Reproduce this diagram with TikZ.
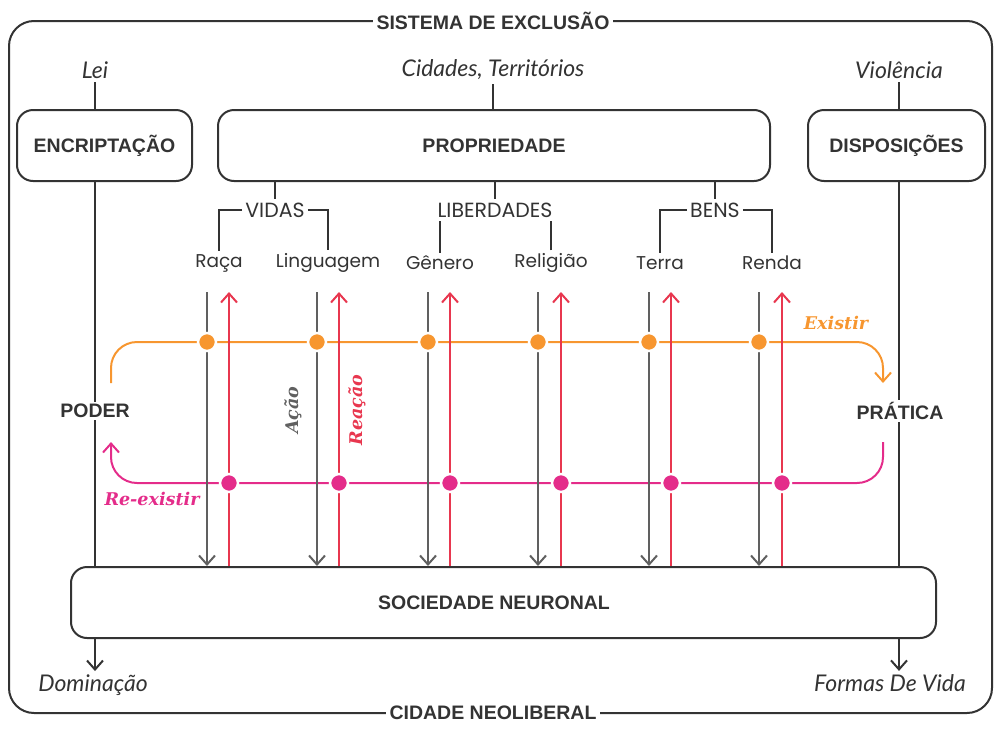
\documentclass[tikz,border=0pt]{standalone}
\usepackage{fontspec}
\setmainfont{Liberation Sans}
\newfontfamily\thinfont{Poppins}
\newfontfamily\slantfont{Lato}
\newfontfamily\notefont{DejaVu Serif}
\usetikzlibrary{arrows.meta}
\definecolor{dkgray}{HTML}{333333}
\definecolor{midgray}{HTML}{606060}
\definecolor{exorange}{HTML}{F7962F}
\definecolor{remagenta}{HTML}{E42C8A}
\definecolor{reared}{HTML}{E8374F}

\begin{document}
\begin{tikzpicture}[x=1pt,y=-1pt,
    dk/.style={draw=dkgray,line width=2},
    barb/.style={-{Straight Barb[length=9pt,width=16pt]}},
    roundbox/.style={draw=dkgray,line width=2,rounded corners=16,fill=white,minimum height=71},
    capt/.style={fill=white,inner xsep=4,inner ysep=2,text=dkgray,font=\fontsize{19.5}{22}\selectfont\bfseries},
    slant/.style={text=dkgray,font=\slantfont\itshape\fontsize{23}{26}\selectfont},
    item/.style={text=dkgray,inner sep=3,font=\thinfont\fontsize{18.5}{20}\selectfont},
    group/.style={item,font=\thinfont\fontsize{20.5}{22}\selectfont},
    note/.style={font=\notefont\bfseries\itshape\fontsize{17.5}{20}\selectfont},
    dot/.style={circle,draw=white,line width=2.5,inner sep=0,minimum size=18},
  ]
    \useasboundingbox (0,0) rectangle (1000,734);
    % outer frame
    \draw[dk,rounded corners=25] (9,21) rectangle (992,713);
    \node[capt] (sistema) at (493,21) {SISTEMA DE EXCLUSÃO};
    \node[capt] (cidneo) at (493,713) {CIDADE NEOLIBERAL};

    % top row
    \node[slant] (lei) at (95,70) {Lei};
    \node[slant] (cidades) at (493,70) {Cidades, Territórios};
    \node[slant] (viol) at (899,70) {Violência};
    \node[roundbox,capt,minimum width=175,fill=white] (encr) at (104.5,145.5) {ENCRIPTAÇÃO};
    \node[roundbox,capt,minimum width=552,fill=white] (prop) at (494,145.5) {PROPRIEDADE};
    \node[roundbox,capt,minimum width=177,fill=white] (disp) at (896.5,145.5) {DISPOSIÇÕES};
    \draw[dk] (lei |- encr.north) -- (lei.south);
    \draw[dk] (prop.north -| cidades) -- (cidades.south);
    \draw[dk] (disp.north -| viol) -- (viol.south);

    % groups and items
    \node[group] (vidas) at (275,210) {VIDAS};
    \node[group] (liber) at (495,210) {LIBERDADES};
    \node[group] (bens) at (715,210) {BENS};
    \node[item] (raca) at (219,263) {Raça};
    \node[item] (lingua) at (328,263) {Linguagem};
    \node[item] (genero) at (440,263) {Gênero};
    \node[item] (relig) at (551,263) {Religião};
    \node[item] (terra) at (660,263) {Terra};
    \node[item] (renda) at (772,263) {Renda};
    \draw[dk] (prop.south -| vidas) -- (vidas.north);
    \draw[dk] (prop.south -| liber) -- (liber.north);
    \draw[dk] (prop.south -| bens) -- (bens.north);
    \draw[dk] (vidas.west) -| (raca.north);
    \draw[dk] (vidas.east) -| (lingua.north);
    \draw[dk] (genero.north) -- (genero.north |- liber.south);
    \draw[dk] (relig.north) -- (relig.north |- liber.south);
    \draw[dk] (bens.west) -| (terra.north);
    \draw[dk] (bens.east) -| (renda.north);

    % bottom box and outputs
    \node[roundbox,minimum width=865] (soc) at (503.5,602.5) {};
    \node[capt] (soctxt) at (494,602.5) {SOCIEDADE NEURONAL};
    \node[slant] (dom) at (93,685) {Dominação};
    \node[slant] (formas) at (890,683) {Formas De Vida};
    \draw[dk] (lei |- encr.south) -- (lei |- soc.north);
    \draw[dk] (disp.south -| viol) -- (viol |- soc.north);
    \draw[dk,barb] (lei |- soc.south) -- (lei |- dom.north);
    \draw[dk,barb] (viol |- soc.south) -- (viol |- formas.north);
    \node[capt] (poder) at (95,411) {PODER};
    \node[capt] (pratica) at (900,411) {PRÁTICA};

    % loops
    \coordinate (exlevel) at (0,342);
    \coordinate (relevel) at (0,483);
    \coordinate (exin) at (111,383);
    \coordinate (exout) at (883,383);
    \coordinate (rein) at (883,442);
    \coordinate (reout) at (111,442);
    \draw[exorange,line width=2,rounded corners=26,barb] (exin) |- (exout |- exlevel) -- (exout);
    \draw[remagenta,line width=2,rounded corners=26,barb] (rein) |- (reout |- relevel) -- (reout);

    % action / reaction arrows
    \foreach \g/\r [count=\i] in {207/229,317/339,428/450,538/561,649/671,759/782} {
      \coordinate (gtop\i) at (\g,292);
      \coordinate (rtop\i) at (\r,292);
      \draw[midgray,line width=2,barb] (gtop\i) -- (gtop\i |- soc.north);
      \draw[reared,line width=2,barb] (rtop\i |- soc.north) -- (rtop\i);
      \node[dot,fill=exorange] (exdot\i) at (gtop\i |- exlevel) {};
      \node[dot,fill=remagenta] (redot\i) at (rtop\i |- relevel) {};
    }

    \node[note,text=exorange] (existir) at (836,323) {Existir};
    \node[note,text=remagenta] (reexistir) at (152,499) {Re-existir};
    \node[note,text=midgray,rotate=90] (acao) at (293,410) {Ação};
    \node[note,text=reared,rotate=90] (reacao) at (357,410) {Reação};
\end{tikzpicture}
\end{document}
